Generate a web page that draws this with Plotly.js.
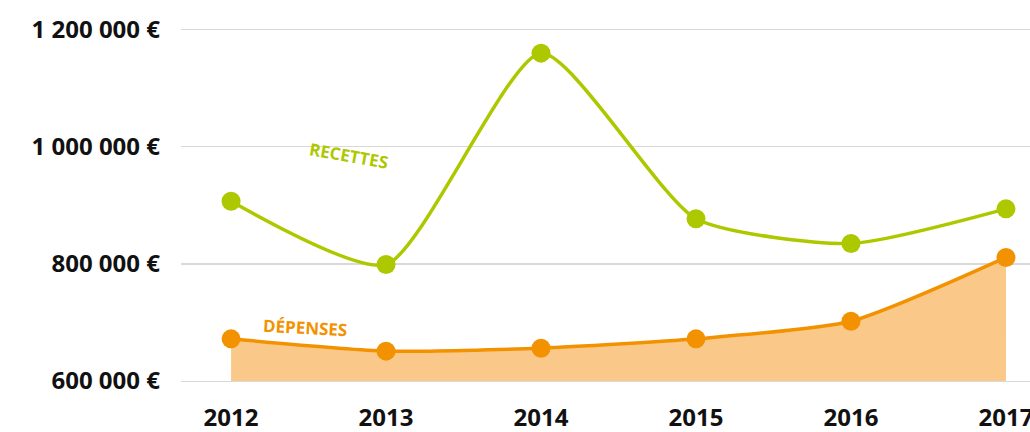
<!DOCTYPE html>
<html>
<head>
<meta charset="utf-8">
<script src="https://cdn.plot.ly/plotly-3.0.1.min.js"></script>
<style>
  html, body { margin: 0; padding: 0; background: #fff; }
  #chart { width: 1030px; height: 432px; }
</style>
</head>
<body>
<div id="chart"></div>
<script>
const years = [2012, 2013, 2014, 2015, 2016, 2017];
const recettes = [907000, 799000, 1160000, 877000, 835000, 894000];
const depenses = [672000, 651000, 656000, 672000, 702000, 811000];
const yTickVals = [600000, 800000, 1000000, 1200000];
const yTickText = ['600 000 €', '800 000 €', '1 000 000 €', '1 200 000 €'];
const xTickText = ['2012', '2013', '2014', '2015', '2016', '2017'];

const green = '#AEC800';
const orange = '#F39200';
const fillOrange = '#FAC98A';

const traces = [
  {
    x: years, y: depenses, type: 'scatter', mode: 'lines+markers',
    line: { color: orange, width: 3.5, shape: 'spline', smoothing: 0.6 },
    marker: { color: orange, size: 19 },
    fill: 'tozeroy', fillcolor: fillOrange,
    hoverinfo: 'skip', cliponaxis: false
  },
  {
    x: years, y: recettes, type: 'scatter', mode: 'lines+markers',
    line: { color: green, width: 3.5, shape: 'spline', smoothing: 0.6 },
    marker: { color: green, size: 19 },
    hoverinfo: 'skip', cliponaxis: false
  }
];

const layout = {
  width: 1030, height: 432,
  margin: { l: 181, r: 0, t: 18, b: 51 },
  paper_bgcolor: '#ffffff', plot_bgcolor: '#ffffff',
  showlegend: false,
  font: { family: '"Open Sans", sans-serif', color: '#111111' },
  xaxis: {
    range: [2011.677, 2017.155],
    tickvals: years, ticktext: xTickText,
    showgrid: false, zeroline: false,
    showline: true, linecolor: '#d9d9d9', linewidth: 1.3,
    ticks: '', ticklabelstandoff: 15, ticklabeloverflow: 'allow',
    tickfont: { family: '"Open Sans", sans-serif', size: 24, color: '#111111', weight: 'bold' },
    automargin: false, fixedrange: true
  },
  yaxis: {
    range: [600000, 1220000],
    tickvals: yTickVals, ticktext: yTickText,
    showgrid: true, gridcolor: '#d9d9d9', gridwidth: 1.3,
    zeroline: false, showline: false,
    ticks: '', ticklabelstandoff: 20,
    tickfont: { family: '"Open Sans", sans-serif', size: 24, color: '#111111', weight: 'bold' },
    automargin: false, fixedrange: true
  },
  annotations: [
    {
      x: 2012.76, y: 986000, xref: 'x', yref: 'y', text: 'RECETTES', showarrow: false,
      textangle: 10, font: { family: '"Open Sans", sans-serif', size: 17, color: green, weight: 'bold' }
    },
    {
      x: 2012.48, y: 692000, xref: 'x', yref: 'y', text: 'DÉPENSES', showarrow: false,
      textangle: 3, font: { family: '"Open Sans", sans-serif', size: 17, color: orange, weight: 'bold' }
    }
  ]
};

Plotly.newPlot('chart', traces, layout, { staticPlot: true, displayModeBar: false });
</script>
</body>
</html>
